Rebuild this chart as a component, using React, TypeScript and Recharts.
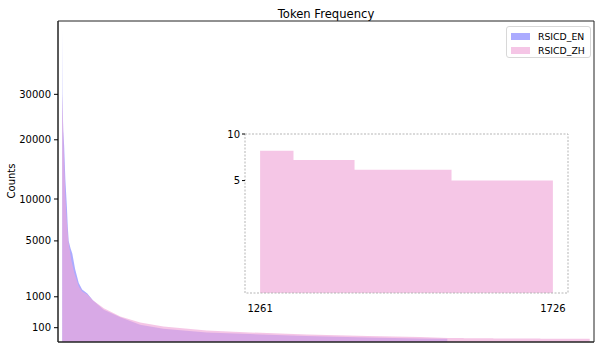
import React from 'react'
import { ComposedChart, Area, XAxis, YAxis, ReferenceArea } from 'recharts'

// token rank -> count (sqrt y scale)
const enRanks = [0, 1, 3, 6, 10, 15, 18, 21, 27, 33, 42, 54, 65, 82, 100, 136, 190, 255, 331, 473, 614, 800, 1000, 1170, 1260]
const enCounts = [48000, 30000, 22000, 19000, 13000, 9000, 6500, 5000, 4300, 3800, 2600, 1700, 1350, 1150, 850, 510, 300, 146, 86, 45, 31, 18, 10, 6, 5]

const zhRanks = [0, 2, 5, 10, 15, 20, 30, 40, 54, 65, 82, 100, 136, 190, 255, 331, 473, 614, 800, 1000, 1170, 1261, 1313, 1314, 1410, 1411, 1564, 1565, 1726]
const zhCounts = [30000, 24600, 18000, 10500, 7000, 5000, 3200, 2300, 1500, 1250, 1100, 850, 560, 320, 188, 119, 66, 45, 28, 17, 12, 8, 8, 7, 7, 6, 6, 5, 5]

const yTicks = [100, 1000, 5000, 10000, 20000, 30000]

// inset: runs of equal counts for the ZH-only tail
const insetStarts = [1261, 1314, 1411, 1565]
const insetCounts = [8, 7, 6, 5]
const insetLast = 1726
const insetXTicks = [1261, 1726]
const insetYTicks = [5, 10]

const FONT = '"DejaVu Sans", sans-serif'
const BLUE = '#0000ff'
const PINK = 'rgb(240,169,217)'

// union table for the main chart
const mainData = (() => {
  const rows: Record<number, any> = {}
  enRanks.forEach((r, i) => {
    rows[r] = { ...(rows[r] || { rank: r }), en: enCounts[i] }
  })
  zhRanks.forEach((r, i) => {
    rows[r] = { ...(rows[r] || { rank: r }), zh: zhCounts[i] }
  })
  return Object.values(rows).sort((a, b) => a.rank - b.rank)
})()

const insetData = [
  ...insetStarts.map((s, i) => ({ x: s, v: insetCounts[i] })),
  { x: insetLast, v: insetCounts[insetCounts.length - 1] }
]

const tickStyle = { fontSize: 10, fontFamily: FONT, fill: '#000' }

export default function App() {
  return (
    <div style={{ position: 'absolute', left: 0, top: 0, width: 602, height: 349, background: '#fff', fontFamily: FONT }}>
      {/* title */}
      <div style={{ position: 'absolute', left: 58, top: 7, width: 536, textAlign: 'center', fontSize: 11.6, color: '#000' }}>
        Token Frequency
      </div>
      {/* y label */}
      <div style={{ position: 'absolute', left: 11, top: 181, transform: 'translate(-50%,-50%) rotate(-90deg)', fontSize: 10, whiteSpace: 'nowrap', color: '#000' }}>
        Counts
      </div>

      <ComposedChart width={602} height={349} data={mainData} margin={{ top: 21, right: 8, bottom: 6, left: 8 }}>
        <XAxis
          type="number"
          dataKey="rank"
          domain={[-14, 1740]}
          allowDataOverflow
          height={1}
          tick={false}
          tickLine={false}
          axisLine={{ stroke: '#222' }}
        />
        <YAxis
          type="number"
          scale="sqrt"
          domain={[0, 50400]}
          allowDataOverflow
          ticks={yTicks}
          interval={0}
          width={50}
          tick={tickStyle}
          tickSize={4}
          tickMargin={3}
          tickLine={{ stroke: '#000' }}
          axisLine={{ stroke: '#222' }}
        />
        <Area type="linear" dataKey="en" stroke="none" fill={BLUE} fillOpacity={0.33} connectNulls isAnimationActive={false} />
        <Area type="linear" dataKey="zh" stroke="none" fill={PINK} fillOpacity={0.66} connectNulls isAnimationActive={false} />
        <ReferenceArea x1={-14} x2={1740} y1={0} y2={50400} fill="none" stroke="#222" ifOverflow="visible" />
      </ComposedChart>

      {/* legend */}
      <div style={{ position: 'absolute', left: 506, top: 26, width: 83, height: 30, border: '1px solid #d8d8d8', borderRadius: 3, background: 'rgba(255,255,255,0.8)', fontSize: 9.3 }}>
        {[
          { name: 'RSICD_EN', color: BLUE, op: 0.33, top: 3 },
          { name: 'RSICD_ZH', color: PINK, op: 0.66, top: 17 }
        ].map((it) => (
          <div key={it.name} style={{ position: 'absolute', left: 4, top: it.top, height: 12, display: 'flex', alignItems: 'center', whiteSpace: 'nowrap' }}>
            <span style={{ display: 'inline-block', width: 19, height: 7, background: it.color, opacity: it.op }} />
            <span style={{ marginLeft: 8, color: '#000' }}>{it.name}</span>
          </div>
        ))}
      </div>

      {/* inset */}
      <div style={{ position: 'absolute', left: 215, top: 124, width: 370, height: 190 }}>
        <ComposedChart width={370} height={190} data={insetData} margin={{ top: 10, right: 17, bottom: 0, left: 5 }}>
          <XAxis
            type="number"
            dataKey="x"
            domain={[1237, 1750]}
            allowDataOverflow
            ticks={insetXTicks}
            interval={0}
            height={21}
            tick={tickStyle}
            tickLine={false}
            tickMargin={6}
            axisLine={false}
          />
          <YAxis
            type="number"
            scale="sqrt"
            domain={[0, 10]}
            allowDataOverflow
            ticks={insetYTicks}
            interval={0}
            width={25}
            tick={tickStyle}
            tickSize={3}
            tickMargin={2}
            tickLine={{ stroke: '#000' }}
            axisLine={false}
          />
          <Area type="stepAfter" dataKey="v" stroke="none" fill={PINK} fillOpacity={0.66} isAnimationActive={false} />
          <ReferenceArea x1={1237} x2={1750} y1={0} y2={10} fill="none" stroke="#b5b5b5" strokeDasharray="2 1.5" ifOverflow="visible" />
        </ComposedChart>
      </div>
    </div>
  )
}
